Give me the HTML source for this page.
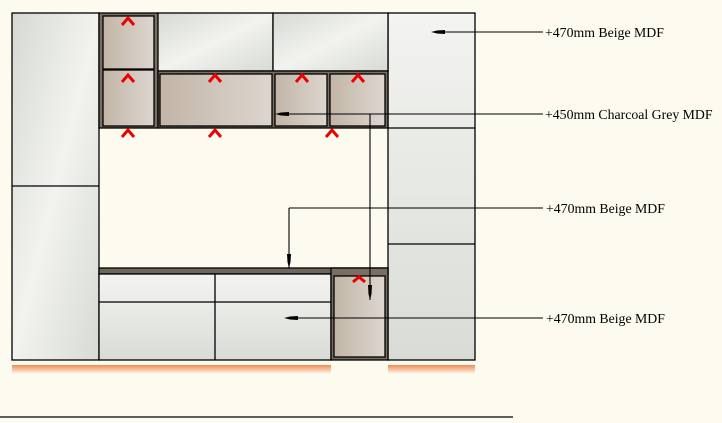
<!DOCTYPE html>
<html><head><style>
html,body{margin:0;padding:0;background:#fdfbf0;}
svg{display:block;}
text{font-family:"Liberation Serif",serif;font-size:13.8px;fill:#000;}
</style></head><body>
<svg width="722" height="423" viewBox="0 0 722 423" xmlns="http://www.w3.org/2000/svg">
<defs>
<linearGradient id="g" x1="0" y1="0" x2="1" y2="1">
<stop offset="0" stop-color="#d6d9d3"/><stop offset="0.5" stop-color="#f2f3ef"/><stop offset="1" stop-color="#d7dad4"/>
</linearGradient>
<linearGradient id="gv" x1="0" y1="0" x2="0" y2="1">
<stop offset="0" stop-color="#f3f4f1"/><stop offset="1" stop-color="#d9dcd6"/>
</linearGradient>
<linearGradient id="b" x1="0" y1="0" x2="1" y2="0">
<stop offset="0" stop-color="#c2b5a7"/><stop offset="1" stop-color="#ddd6cf"/>
</linearGradient>
<linearGradient id="o" x1="0" y1="0" x2="0" y2="1">
<stop offset="0" stop-color="#f08a50"/><stop offset="1" stop-color="#fdfbf0"/>
</linearGradient>
</defs>
<g stroke="#000" stroke-width="1.3">
<rect x="12" y="13" width="87" height="347" fill="url(#g)"/>
<line x1="12" y1="186" x2="99" y2="186"/>
<rect x="388" y="13" width="87" height="347" fill="url(#gv)"/>
<line x1="388" y1="128" x2="475" y2="128"/>
<line x1="388" y1="244" x2="475" y2="244"/>
<rect x="157" y="13" width="116" height="58" fill="url(#g)"/>
<rect x="273" y="13" width="115" height="58" fill="url(#g)"/>
<rect x="99" y="13" width="59" height="115" fill="#7a6e62"/>
<rect x="103" y="16" width="51" height="53" fill="url(#b)"/>
<rect x="103" y="70" width="51" height="56" fill="url(#b)"/>
<rect x="158" y="71" width="230" height="57" fill="#7a6e62"/>
<rect x="160" y="74" width="112" height="52" fill="url(#b)"/>
<rect x="275" y="74" width="52" height="52" fill="url(#b)"/>
<rect x="330" y="74" width="55" height="52" fill="url(#b)"/>
<rect x="99" y="268" width="289" height="6" fill="#6f675e"/>
<rect x="99" y="274" width="232" height="86" fill="url(#gv)"/>
<line x1="215" y1="274" x2="215" y2="360"/>
<line x1="99" y1="302" x2="331" y2="302"/>
<rect x="331" y="268" width="57" height="92" fill="#7a6e62"/>
<rect x="334" y="276" width="51" height="81" fill="url(#b)"/>
<line x1="0" y1="417" x2="513" y2="417"/>
</g>
<rect x="12" y="365" width="319" height="9" fill="url(#o)"/>
<rect x="388" y="365" width="87" height="9" fill="url(#o)"/>
<g fill="none" stroke="#e00" stroke-width="3">
<path d="M122 25l6-7 6 7M122 82l6-7 6 7M122 137l6-7 6 7M209 82l6-7 6 7M209 137l6-7 6 7M296 82l6-7 6 7M352 82l6-7 6 7M326 137l6-7 6 7M353 282l6-5 6 5"/>
</g>
<g stroke="#000" stroke-width="1.1" fill="none">
<line x1="433" y1="32" x2="543" y2="32"/>
<line x1="277" y1="114" x2="543" y2="114"/>
<line x1="370" y1="114" x2="370" y2="300"/>
<line x1="289" y1="208" x2="543" y2="208"/>
<line x1="289" y1="208" x2="289" y2="268"/>
<line x1="286" y1="318" x2="543" y2="318"/>
</g>
<g fill="#000">
<polygon points="431,32 437,30.5 445,30 445,34 437,33.5"/>
<polygon points="275,114 281,112.5 289,112 289,116 281,115.5"/>
<polygon points="284,318 290,316.5 298,316 298,320 290,319.5"/>
<polygon points="289,268 287.5,262 287,254 291,254 290.5,262"/>
<polygon points="370,300 368.5,294 368,285 372,285 371.5,294"/>
</g>
<text x="545" y="37">+470mm Beige MDF</text>
<text x="545" y="119">+450mm Charcoal Grey MDF</text>
<text x="546" y="213">+470mm Beige MDF</text>
<text x="546" y="323">+470mm Beige MDF</text>
</svg>
</body></html>
